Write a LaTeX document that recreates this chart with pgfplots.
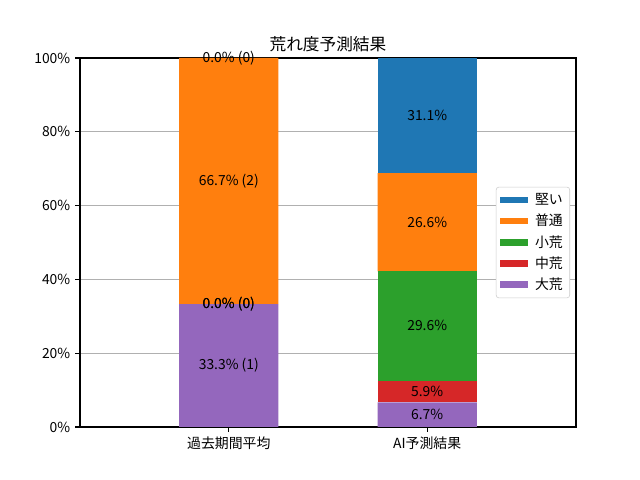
\documentclass[border=0pt]{standalone}
\usepackage{fontspec}
\setmainfont{Noto Sans CJK JP}
\usepackage{pgfplots}
\pgfplotsset{compat=1.18}
\definecolor{cblue}{HTML}{1F77B4}
\definecolor{corange}{HTML}{FF7F0E}
\definecolor{cgreen}{HTML}{2CA02C}
\definecolor{cred}{HTML}{D62728}
\definecolor{cpurple}{HTML}{9467BD}
\newcommand{\myfnt}{\fontsize{10}{12}\selectfont}
\tikzset{lbl/.style={font=\myfnt, inner sep=0pt}}
\begin{document}
\begin{tikzpicture}
\path[use as bounding box, fill=white] (0,0) rectangle (460.8pt,345.6pt);
\begin{axis}[
  at={(57.6pt,38.16pt)}, anchor=south west,
  scale only axis, width=357.12pt, height=265.68pt,
  ybar stacked, bar width=0.5,
  xmin=-0.75, xmax=1.75, ymin=0, ymax=100,
  xtick={0,1}, xticklabels={過去期間平均,AI予測結果},
  ytick={0,20,...,100},
  yticklabel={\pgfmathprintnumber{\tick}\%},
  /pgf/number format/assume math mode=true,
  tick label style={font=\myfnt},
  xtick pos=bottom, ytick pos=left,
  tick align=outside, major tick length=3.5pt,
  tick style={black, line width=0.8pt},
  axis line style={line width=0.8pt},
  ymajorgrids, grid style={color=black!31, line width=0.8pt},
  title={荒れ度予測結果},
  title style={font=\fontsize{12}{14}\selectfont, yshift=-5pt},
  reverse legend,
  legend style={at={(1,0.5)}, anchor=east, xshift=-4.3pt, font=\myfnt,
    draw=black!20, rounded corners=2pt, row sep=1.4pt, inner xsep=3pt, inner ysep=2.5pt,
    nodes={inner sep=2pt},
    /tikz/every odd column/.append style={column sep=3pt}},
  legend cell align=left,
  legend image code/.code={\fill[#1, sharp corners] (0pt,-2.5pt) rectangle (20pt,2.5pt);},
]
\addplot[fill=cpurple, draw=none] coordinates {(0,33.3) (1,6.7)};
\addplot[fill=cred, draw=none] coordinates {(0,0) (1,5.9)};
\addplot[fill=cgreen, draw=none] coordinates {(0,0) (1,29.6)};
\addplot[fill=corange, draw=none] coordinates {(0,66.7) (1,26.6)};
\addplot[fill=cblue, draw=none] coordinates {(0,0) (1,31.1)};
\legend{大荒,中荒,小荒,普通,堅い}
\coordinate (a1) at (axis cs:0,16.65);
\coordinate (a2) at (axis cs:0,33.3);
\coordinate (a3) at (axis cs:0,66.65);
\coordinate (a4) at (axis cs:0,100);
\coordinate (b1) at (axis cs:1,3.35);
\coordinate (b2) at (axis cs:1,9.65);
\coordinate (b3) at (axis cs:1,27.4);
\coordinate (b4) at (axis cs:1,55.5);
\coordinate (b5) at (axis cs:1,84.35);
\end{axis}
\node[lbl] at (a1) {33.3\% (1)};
\node[lbl] at (a2) {0.0\% (0)};
\node[lbl] at (a2) {0.0\% (0)};
\node[lbl] at (a3) {66.7\% (2)};
\node[lbl] at (a4) {0.0\% (0)};
\node[lbl] at (b1) {6.7\%};
\node[lbl] at (b2) {5.9\%};
\node[lbl] at (b3) {29.6\%};
\node[lbl] at (b4) {26.6\%};
\node[lbl] at (b5) {31.1\%};
\end{tikzpicture}
\end{document}
